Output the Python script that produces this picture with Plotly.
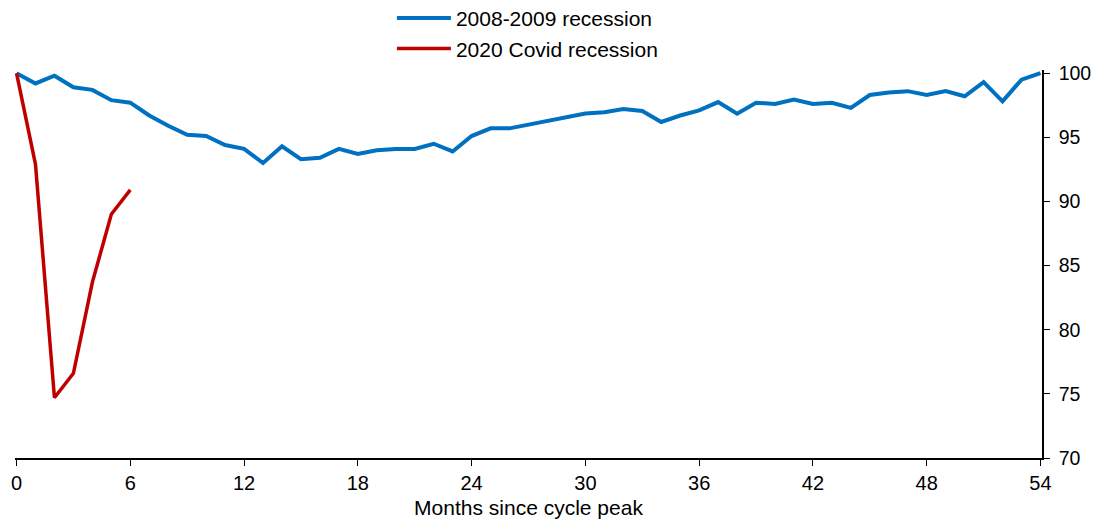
import plotly.graph_objects as go

months_gfc = list(range(0, 55))
gfc = [100.0, 99.2, 99.8, 98.9, 98.7, 97.9, 97.7, 96.7, 95.9, 95.2,
       95.1, 94.4, 94.1, 93.0, 94.3, 93.3, 93.4, 94.1, 93.7, 94.0,
       94.1, 94.1, 94.5, 93.9, 95.1, 95.7, 95.7, 96.0, 96.25, 96.6,
       96.85, 96.95, 97.2, 97.05, 96.2, 96.7, 97.1, 97.75, 96.85, 97.7,
       97.6, 97.95, 97.6, 97.7, 97.3, 98.3, 98.5, 98.6, 98.3, 98.6,
       98.2, 99.3, 97.8, 99.5, 100.0]

months_covid = list(range(0, 7))
covid = [100.0, 92.9, 74.7, 76.6, 83.7, 89.0, 90.9]

x_ticks = [0, 6, 12, 18, 24, 30, 36, 42, 48, 54]
y_ticks = [70, 75, 80, 85, 90, 95, 100]

FONT = "Liberation Sans, Arial, sans-serif"

# page body has an 8px margin, so the figure is sized to fit inside the window
W, H = 1091, 514
ML, MR, MT, MB = 7.2, 57, 62.1, 63.7
plot_h = H - MT - MB

fig = go.Figure()
fig.add_trace(go.Scatter(x=months_gfc, y=gfc, mode="lines", name="2008-2009 recession",
                         line=dict(color="#0070C0", width=4)))
fig.add_trace(go.Scatter(x=months_covid, y=covid, mode="lines", name="2020 Covid recession",
                         line=dict(color="#C00000", width=3.5)))

fig.update_layout(
    width=W, height=H,
    margin=dict(l=ML, r=MR, t=MT, b=MB, autoexpand=False),
    paper_bgcolor="white", plot_bgcolor="white",
    font=dict(family=FONT, size=20, color="black"),
    showlegend=True,
    legend=dict(x=0.367, xanchor="left", y=1 + (MT + 10) / plot_h, yanchor="top",
                orientation="v", font=dict(size=21), tracegroupgap=0,
                itemwidth=54, bgcolor="rgba(0,0,0,0)"),
    xaxis=dict(range=[-0.08, 54.08], tickvals=x_ticks, ticks="outside", ticklen=6,
               tickcolor="black", showline=True, linecolor="black", linewidth=1.5,
               showgrid=False, zeroline=False, tickfont=dict(size=20),
               title=dict(text="Months since cycle peak", font=dict(size=21), standoff=8)),
    yaxis=dict(range=[70, 100.25], tickvals=y_ticks, side="right", ticks="outside", ticklen=6,
               tickcolor="black", showline=True, linecolor="black", linewidth=1.5,
               showgrid=False, zeroline=False, tickfont=dict(size=19.5), ticklabelstandoff=5),
)

fig.write_html("out.html")
